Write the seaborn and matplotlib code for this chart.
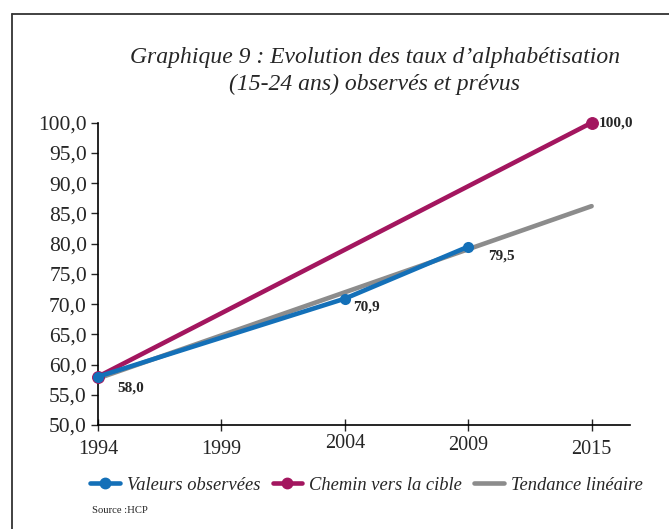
import pandas as pd
import matplotlib.pyplot as plt
from matplotlib.lines import Line2D
from matplotlib.transforms import ScaledTranslation
import seaborn as sns

# Données
annees = ["1994", "1999", "2004", "2009", "2015"]
obs_annees = ["1994", "2004", "2009"]
obs_valeurs = [58.0, 70.9, 79.5]
cible_annees = ["1994", "2015"]
cible_valeurs = [58.0, 100.0]
tendance_annees = ["1994", "2015"]
tendance_valeurs = [57.7, 86.2]

BLEU = "#1470b8"
VIOLET = "#a3165f"
GRIS = "#8c8c8c"

sns.set_style("ticks")
plt.rcParams['font.family'] = ['Liberation Serif', 'DejaVu Serif']

pos = {a: i for i, a in enumerate(annees)}
df_obs = pd.DataFrame({"x": [pos[a] for a in obs_annees], "y": obs_valeurs})
df_cible = pd.DataFrame({"x": [pos[a] for a in cible_annees], "y": cible_valeurs})
df_tend = pd.DataFrame({"x": [pos[a] for a in tendance_annees], "y": tendance_valeurs})

fig = plt.figure(figsize=(6.69, 5.29), dpi=100)
ax = fig.add_axes([0.1465, 0.1966, 0.795, 0.5714])

sns.lineplot(data=df_tend, x="x", y="y", ax=ax, color=GRIS, lw=3.3, zorder=2)
sns.lineplot(data=df_cible, x="x", y="y", ax=ax, color=VIOLET, lw=3.3, zorder=3,
             marker="o", markersize=8.5, markeredgecolor=VIOLET, clip_on=False)
sns.lineplot(data=df_obs, x="x", y="y", ax=ax, color=BLEU, lw=3.3, zorder=4,
             marker="o", markersize=8, markeredgewidth=0, clip_on=False)

# étiquettes des valeurs (décalages en points)
decalages = [(14, -8), (6, -6), (14, -7)]
for (x, y), d in zip(zip(df_obs["x"], df_obs["y"]), decalages):
    ax.annotate(f"{y:.1f}".replace(".", ","), (x, y), xytext=d,
                textcoords="offset points", fontsize=11, fontweight="bold",
                va="center", ha="left")
ax.annotate("100,0", (df_cible["x"].iloc[-1], cible_valeurs[-1]), xytext=(5, 0),
            textcoords="offset points", fontsize=11, fontweight="bold",
            va="center", ha="left")

ax.set_xlim(0, 4.31)
ax.set_ylim(50, 100)
ax.set_xticks(range(len(annees)))
ax.set_xticklabels(annees, fontsize=14.5)
yt = list(range(50, 101, 5))
ax.set_yticks(yt)
ax.set_yticklabels([f"{v:.1f}".replace(".", ",") for v in yt], fontsize=15.5)
ax.tick_params(axis="x", direction="inout", length=9, width=1, pad=6)
ax.tick_params(axis="y", direction="out", length=5, width=1, pad=3)
ax.set_xlabel("")
ax.set_ylabel("")
for s in ["top", "right"]:
    ax.spines[s].set_visible(False)
for s in ["left", "bottom"]:
    ax.spines[s].set_linewidth(1.2)
    ax.spines[s].set_color("black")

# 2004 et 2009 sont un peu plus hauts dans l'original
for lab, dy in zip(ax.get_xticklabels(), [0, 0, 6, 4, 0]):
    lab.set_transform(lab.get_transform() + ScaledTranslation(0, dy / 100, fig.dpi_scale_trans))

fig.text(0.56, 0.865, "Graphique 9 : Evolution des taux d\u2019alphabétisation\n(15-24 ans) observés et prévus",
         ha="center", va="center", fontsize=17, style="italic", linespacing=1.35)

poignees = [
    Line2D([], [], color=BLEU, lw=3.3, marker="o", markersize=7.5),
    Line2D([], [], color=VIOLET, lw=3.3, marker="o", markersize=7.5),
    Line2D([], [], color=GRIS, lw=3.3),
]
fig.legend(poignees, ["Valeurs observées", "Chemin vers la cible", "Tendance linéaire"],
           loc="center", bbox_to_anchor=(0.548, 0.083), ncol=3, frameon=False,
           prop={"size": 13.3, "style": "italic"}, handlelength=1.6,
           handletextpad=0.4, columnspacing=0.65)

fig.text(0.137, 0.035, "Source :HCP", fontsize=7.7, ha="left", va="center")

# cadre
fig.add_artist(Line2D([12 / 669, 1], [1 - 14 / 529, 1 - 14 / 529], color="#333333", lw=1.3))
fig.add_artist(Line2D([12 / 669, 12 / 669], [0, 1 - 14 / 529], color="#333333", lw=1.3))

plt.savefig("out.png", dpi=100)
